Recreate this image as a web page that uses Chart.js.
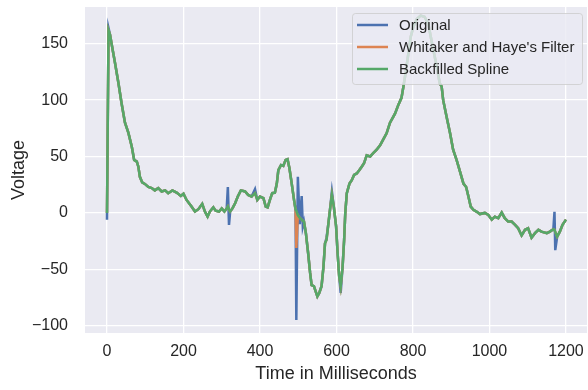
<!DOCTYPE html>
<html>
<head>
<meta charset="utf-8">
<script src="https://cdn.jsdelivr.net/npm/chart.js@4.4.1/dist/chart.umd.min.js"></script>
<style>
    html, body { margin: 0; padding: 0; background: #ffffff; }
    #wrap { width: 588px; height: 390px; }
</style>
</head>
<body>
<div id="wrap"><canvas id="ecg-chart" width="588" height="390"></canvas></div>
<script>
// Time axis (ms) shared by the three series
var timeMs = [0, 4, 8, 12, 21, 30, 38, 47, 56, 65, 71, 78, 82, 86, 92, 99, 108, 117, 125, 134,
    143, 152, 160, 171, 182, 193, 200, 208, 221, 230, 239, 249, 256, 263, 269, 278, 284, 293, 300, 307,
    313, 316, 319, 322, 328, 335, 342, 350, 361, 369, 378, 387, 393, 400, 409, 415, 420, 426, 432, 439,
    444, 448, 455, 461, 467, 472, 477, 483, 489, 493, 495, 499, 504, 509, 512, 515, 520, 526, 531, 535,
    541, 546, 550, 555, 561, 566, 570, 574, 579, 583, 588, 593, 599, 603, 607, 611, 616, 620, 623, 627,
    634, 640, 646, 653, 660, 666, 672, 679, 688, 696, 705, 714, 722, 731, 740, 753, 762, 770, 775, 782,
    788, 794, 801, 810, 820, 830, 840, 850, 862, 870, 875, 879, 888, 897, 905, 914, 923, 932, 939, 945,
    951, 958, 966, 975, 988, 997, 1006, 1014, 1023, 1032, 1040, 1049, 1058, 1067, 1075, 1084, 1093, 1101, 1110, 1119,
    1128, 1136, 1150, 1158, 1167, 1170, 1172, 1177, 1184, 1191, 1200];

// Backfilled spline (green)
var splineV = [0, 162, 158, 150, 133, 115, 97.5, 80, 71, 58.5, 47, 45.5, 41, 32, 27, 25.7, 23, 22, 20, 22,
    19, 20, 17.5, 20, 18, 15, 17, 11.5, 5.6, 1.2, 3.3, 8, 1.2, -3.3, 1.2, 5, 2, 1.2, 4, 1.2,
    4, 5.6, 3, 1.2, 4, 8.6, 14.5, 20, 19, 16, 14.5, 17.5, 11.5, 14.5, 13, 5.6, 5, 11.5, 17.5, 18,
    26, 38, 42.5, 41.7, 47, 47.6, 39.6, 26, 11.5, 3, 2, -2, -4.5, -6, -7, -7.7, -18, -36, -53, -64,
    -65, -70, -74, -71, -65, -47.6, -27, -24, -9, 2.7, 16, 5.6, -12, -36, -56, -65, -47.6, -24, 0, 17.5,
    26, 29, 33.7, 35, 38, 41, 44, 51, 50, 53, 56, 60, 65, 70.6, 80, 88, 96, 102, 112, 127,
    141.5, 156, 165, 172, 175, 174, 168, 150, 130, 115, 112, 100, 85, 70.6, 56, 47, 36.6, 26, 23, 14.5,
    5.6, 2.7, 1.2, -1, 0, -1.8, -6, -3.3, -4.7, 0.3, -4.7, -7.7, -7.7, -10.6, -13.6, -20, -15, -13.6, -22, -18,
    -15, -16.6, -18, -16.6, -14.5, -15, -17, -21, -16.6, -10.6, -6];

// Original signal (blue): same as spline except the spikes
var originalV = [-6, 164, 158, 150, 133, 115, 97.5, 80, 71, 58.5, 47, 45.5, 41, 32, 27, 25.7, 23, 22, 20, 22,
    19, 20, 17.5, 20, 18, 15, 17, 11.5, 5.6, 1.2, 3.3, 8, 1.2, -3.3, 1.2, 5, 2, 1.2, 4, 1.2,
    4, 23, -10.6, 1.2, 4, 8.6, 14.5, 20, 19, 16, 14.5, 21, 11.5, 14.5, 13, 5.6, 5, 11.5, 17.5, 18,
    26, 38, 42.5, 41.7, 47, 47.6, 39.6, 26, 11.5, 3, -95, 32, -10, 15, -12, -7.7, -18, -36, -53, -64,
    -65, -70, -74, -71, -65, -47.6, -27, -22, -9, 2.7, 19, 5.6, -12, -36, -56, -71, -47.6, -24, 0, 17.5,
    26, 29, 33.7, 35, 38, 41, 44, 51, 50, 53, 56, 60, 65, 70.6, 80, 88, 96, 102, 112, 127,
    141.5, 156, 165, 172, 175, 174, 168, 150, 130, 115, 112, 100, 85, 70.6, 56, 47, 36.6, 26, 23, 14.5,
    5.6, 2.7, 1.2, -1, 0, -1.8, -6, -3.3, -4.7, 0.3, -4.7, -7.7, -7.7, -10.6, -13.6, -20, -15, -13.6, -22, -18,
    -15, -16.6, -18, -16.6, -14.5, 1, -33, -21, -16.6, -10.6, -6];

// Whitaker and Haye's filter (orange): spline except the big spike at ~495 ms
var whitakerV = splineV.slice();
whitakerV[timeMs.indexOf(495)] = -31;

var xTicks = [0, 200, 400, 600, 800, 1000, 1200];
var yTicks = [-100, -50, 0, 50, 100, 150];

var seriesNames = ["Original", "Whitaker and Haye's Filter", "Backfilled Spline"];
var seriesColors = ["#4C72B0", "#DD8452", "#55A868"];

var fontFam = '"Liberation Sans", Arial, sans-serif';

function toPoints(values) {
    return timeMs.map(function (t, i) { return {x: t, y: values[i]}; });
}

// Plot background (seaborn darkgrid)
var bgPlugin = {
    id: 'plotBg',
    beforeDraw: function (chart) {
        var a = chart.chartArea, c = chart.ctx;
        c.save();
        c.fillStyle = '#EAEAF2';
        c.fillRect(a.left, a.top, a.right - a.left, a.bottom - a.top);
        c.restore();
    }
};

// Matplotlib-like legend, upper right
var legendPlugin = {
    id: 'mplLegend',
    afterDraw: function (chart) {
        var c = chart.ctx;
        var x0 = 352, y0 = 13, w = 230, h = 71;
        c.save();
        c.fillStyle = 'rgba(234,234,242,0.8)';
        c.strokeStyle = 'rgba(204,204,204,0.8)';
        c.lineWidth = 1;
        c.beginPath();
        c.roundRect(x0 + 0.5, y0 + 0.5, w, h, 3);
        c.fill();
        c.stroke();
        c.font = '15px ' + fontFam;
        c.textBaseline = 'middle';
        var rows = [25, 47, 69];
        for (var i = 0; i < seriesNames.length; i++) {
            c.strokeStyle = seriesColors[i];
            c.lineWidth = 2.5;
            c.beginPath();
            c.moveTo(357, rows[i]);
            c.lineTo(388, rows[i]);
            c.stroke();
            c.fillStyle = '#262626';
            c.fillText(seriesNames[i], 399, rows[i] + 1);
        }
        c.restore();
    }
};

function lineSet(i, values) {
    return {
        label: seriesNames[i],
        data: toPoints(values),
        borderColor: seriesColors[i],
        borderWidth: 2.5,
        pointRadius: 0,
        tension: 0,
        fill: false,
        order: 2 - i   // green drawn last (on top)
    };
}

var ctx = document.getElementById('ecg-chart').getContext('2d');
var ecgChart = new Chart(ctx, {
    type: 'line',
    data: {
        datasets: [lineSet(0, originalV), lineSet(1, whitakerV), lineSet(2, splineV)]
    },
    options: {
        responsive: false,
        animation: false,
        layout: {
            padding: {left: 0, right: 1, top: 7, bottom: 0}
        },
        plugins: {
            legend: {display: false},
            tooltip: {enabled: false}
        },
        scales: {
            x: {
                type: 'linear',
                bounds: 'data',
                min: -57.5,
                max: 1255,
                afterBuildTicks: function (axis) {
                    axis.ticks = xTicks.map(function (v) { return {value: v}; });
                },
                afterFit: function (axis) {
                    axis.height = 57;
                    axis.paddingLeft = 0;
                    axis.paddingRight = 0;
                },
                grid: {color: '#ffffff', lineWidth: 1.3, drawTicks: false},
                border: {display: false},
                ticks: {
                    padding: 9,
                    color: '#262626',
                    font: {family: fontFam, size: 16},
                    maxRotation: 0,
                    callback: function (v) { return String(v); }
                },
                title: {
                    display: true,
                    text: 'Time in Milliseconds',
                    color: '#262626',
                    font: {family: fontFam, size: 18},
                    padding: {top: 0, bottom: 5}
                }
            },
            y: {
                type: 'linear',
                bounds: 'data',
                min: -106.5,
                max: 182.6,
                afterBuildTicks: function (axis) {
                    axis.ticks = yTicks.map(function (v) { return {value: v}; });
                },
                afterFit: function (axis) {
                    axis.width = 85;
                    axis.paddingTop = 0;
                    axis.paddingBottom = 0;
                },
                grid: {color: '#ffffff', lineWidth: 1.3, drawTicks: false},
                border: {display: false},
                ticks: {
                    padding: 17,
                    color: '#262626',
                    font: {family: fontFam, size: 16},
                    callback: function (v) { return v < 0 ? '\u2212' + Math.abs(v) : String(v); }
                },
                title: {
                    display: true,
                    text: 'Voltage',
                    color: '#262626',
                    font: {family: fontFam, size: 18},
                    padding: {top: 8, bottom: 8}
                }
            }
        }
    },
    plugins: [bgPlugin, legendPlugin]
});
</script>
</body>
</html>
